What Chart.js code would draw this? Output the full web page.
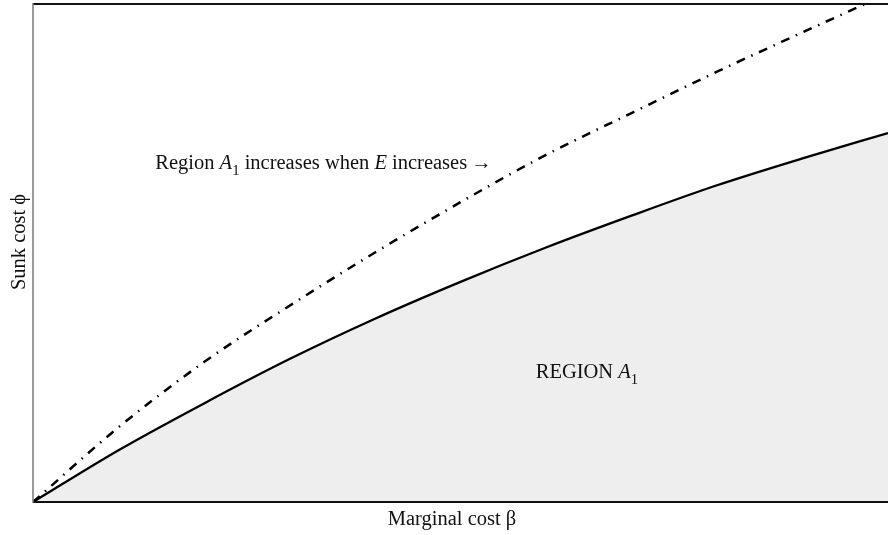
<!DOCTYPE html>
<html>
<head>
<meta charset="utf-8">
<script src="https://cdn.jsdelivr.net/npm/chart.js@4.4.6/dist/chart.umd.min.js"></script>
<style>
  html, body { margin: 0; padding: 0; background: #fff; }
  #wrap { width: 888px; height: 535px; }
</style>
</head>
<body>
<div id="wrap"><canvas id="c" width="888" height="535"></canvas></div>
<script>
// Valores (β normalizado 0..1, ϕ normalizado 0..1)
const beta = [0, 0.1, 0.2, 0.3, 0.4, 0.5, 0.6, 0.7, 0.8, 0.9, 1.0];
const phiBoundary = [0, 0.104, 0.198, 0.287, 0.368, 0.442, 0.511, 0.575, 0.636, 0.690, 0.741];
const phiShifted  = [0, 0.150, 0.281, 0.394, 0.501, 0.602, 0.697, 0.781, 0.864, 0.943, 1.021];

const xTitle = 'Marginal cost β';
const yTitle = 'Sunk cost ϕ';

const SERIF = '"Liberation Serif", "DejaVu Serif", serif';
const FS = 20.5;

const toPoints = (ys) => beta.map((b, i) => ({ x: b, y: ys[i] }));

// Texto con partes en cursiva y subíndices
function drawRich(ctx, parts, x, y) {
  let cx = x;
  for (const p of parts) {
    const size = p.sub ? FS * 0.72 : FS;
    ctx.font = `${p.italic ? 'italic ' : ''}${size}px ${SERIF}`;
    ctx.fillText(p.t, cx, y + (p.sub ? 6 : 0));
    cx += ctx.measureText(p.t).width;
  }
}

const marcoYTextos = {
  id: 'marcoYTextos',
  afterDraw(chart) {
    const { ctx, chartArea: a, scales } = chart;
    ctx.save();
    // marco
    ctx.strokeStyle = '#111';
    ctx.lineWidth = 2;
    ctx.beginPath();
    ctx.moveTo(a.left, a.top); ctx.lineTo(a.right, a.top);
    ctx.moveTo(a.left, a.bottom); ctx.lineTo(a.right, a.bottom);
    ctx.stroke();
    ctx.strokeStyle = '#777';
    ctx.lineWidth = 1.5;
    ctx.beginPath();
    ctx.moveTo(a.left, a.top - 1); ctx.lineTo(a.left, a.bottom + 1);
    ctx.stroke();

    ctx.fillStyle = '#111';
    ctx.textBaseline = 'alphabetic';

    // títulos de ejes
    ctx.font = `${FS}px ${SERIF}`;
    ctx.textAlign = 'center';
    ctx.fillText(xTitle, 452, 525);
    ctx.save();
    ctx.translate(25, 242);
    ctx.rotate(-Math.PI / 2);
    ctx.fillText(yTitle, 0, 0);
    ctx.restore();
    ctx.textAlign = 'left';

    // anotaciones
    const px = (v) => scales.x.getPixelForValue(v);
    const py = (v) => scales.y.getPixelForValue(v);
    drawRich(ctx, [
      { t: 'Region ' }, { t: 'A', italic: true }, { t: '1', sub: true },
      { t: ' increases when ' }, { t: 'E', italic: true }, { t: ' increases\u2009→' }
    ], px(0.143), py(0.669));
    drawRich(ctx, [
      { t: 'REGION ' }, { t: 'A', italic: true }, { t: '1', sub: true }
    ], px(0.588), py(0.249));
    ctx.restore();
  }
};

new Chart(document.getElementById('c'), {
  type: 'line',
  data: {
    datasets: [
      {
        data: toPoints(phiShifted),
        borderColor: '#000',
        borderWidth: 2.5,
        borderDash: [9, 7, 1.5, 7],
        pointRadius: 0,
        fill: false,
        cubicInterpolationMode: 'monotone'
      },
      {
        data: toPoints(phiBoundary),
        borderColor: '#000',
        borderWidth: 2.3,
        backgroundColor: '#eeeeee',
        pointRadius: 0,
        fill: 'origin',
        cubicInterpolationMode: 'monotone'
      }
    ]
  },
  options: {
    responsive: false,
    animation: false,
    layout: { padding: { left: 33, top: 4, right: 0, bottom: 33 } },
    plugins: { legend: { display: false }, tooltip: { enabled: false } },
    scales: {
      x: { type: 'linear', min: 0, max: 1, display: false },
      y: { type: 'linear', min: 0, max: 1, display: false }
    }
  },
  plugins: [marcoYTextos]
});
</script>
</body>
</html>
